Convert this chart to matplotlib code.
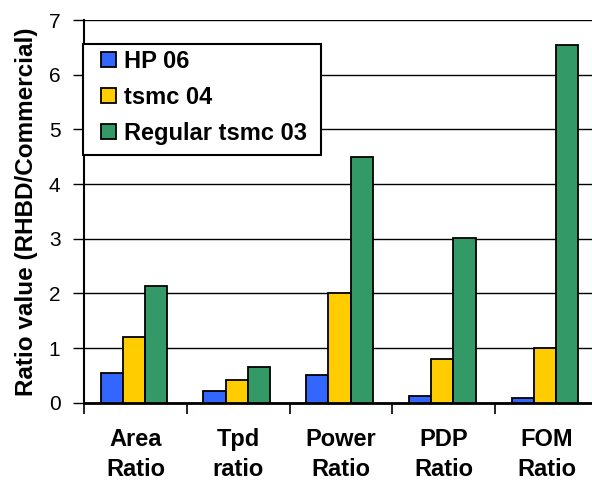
import matplotlib.pyplot as plt
from matplotlib.patches import Rectangle
import numpy as np

# categories and series
categories = ['Area\nRatio', 'Tpd\nratio', 'Power\nRatio', 'PDP\nRatio', 'FOM\nRatio']
series_names = ['HP 06', 'tsmc 04', 'Regular tsmc 03']
hp06 = [0.55, 0.22, 0.50, 0.12, 0.08]
tsmc04 = [1.21, 0.41, 2.00, 0.80, 1.00]
regular03 = [2.14, 0.66, 4.50, 3.02, 6.55]
colores = ['#3366FF', '#FFCC00', '#339966']

plt.rcParams['font.family'] = ['Liberation Sans', 'DejaVu Sans']

W, H = 592, 480
fig = plt.figure(figsize=(W / 100, H / 100), dpi=100)
# the plot area runs a bit past the right edge, like the original
ax = fig.add_axes([84 / W, 77.3 / H, 514 / W, 382.7 / H])

x = np.arange(len(categories))
ancho = 0.216
for i, (vals, nombre) in enumerate(zip([hp06, tsmc04, regular03], series_names)):
    ax.bar(x + (i - 1) * ancho - 0.015, vals, ancho, color=colores[i],
           edgecolor='black', linewidth=1.3, label=nombre, zorder=3)

ax.set_xlim(-0.5, 4.5)
ax.set_ylim(0, 7)
ax.set_yticks(range(0, 8))
ax.yaxis.grid(True, color='black', linewidth=1.0)
ax.set_axisbelow(True)

# ticks at the category boundaries, labels at the centres
ax.set_xticks(np.arange(-0.5, 5.0, 1.0))
ax.set_xticklabels([])
ax.set_xticks(x, minor=True)
ax.set_xticklabels(categories, minor=True, fontsize=17, fontweight='bold',
                   linespacing=1.4)
ax.tick_params(axis='x', which='minor', length=0, pad=18)
ax.tick_params(axis='x', which='major', length=8, width=1.2, direction='out')
ax.tick_params(axis='y', length=8, width=1.0, direction='out', labelsize=15, pad=9)

for lado in ['top', 'right']:
    ax.spines[lado].set_visible(False)
ax.spines['left'].set_linewidth(1.5)
ax.spines['bottom'].set_linewidth(2.0)

ax.set_ylabel('Ratio value (RHBD/Commercial)', fontsize=17.5, fontweight='bold')
ax.yaxis.set_label_coords((38 - 84) / 514, 0.5)

# legend box drawn by hand so the inner margins match
caja = Rectangle((83 / W, 1 - 155 / H), 238 / W, 111 / H, transform=fig.transFigure,
                 facecolor='white', edgecolor='black', linewidth=1.5,
                 clip_on=False, zorder=4)
ax.add_patch(caja)
leg = ax.legend(loc='upper left', bbox_to_anchor=(101 / W, 1 - 50 / H),
                bbox_transform=fig.transFigure, borderaxespad=0, borderpad=0,
                prop={'weight': 'bold', 'size': 17}, frameon=False,
                handlelength=0.63, handleheight=0.63, handletextpad=0.35,
                labelspacing=0.55)
leg.set_zorder(5)

fig.savefig('out.png', dpi=100)
